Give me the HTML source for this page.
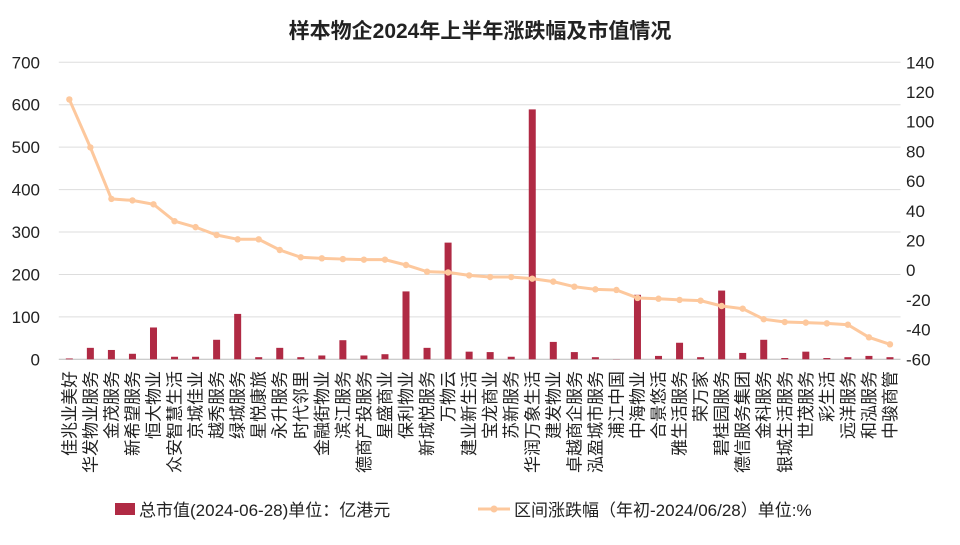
<!DOCTYPE html>
<html><head><meta charset="utf-8"><style>
body{margin:0;background:#fff}
svg text{font-family:"Liberation Sans","Noto Sans CJK SC",sans-serif;fill:#222}
</style></head><body>
<svg id="c" width="960" height="540" xmlns="http://www.w3.org/2000/svg">
<text x="480" y="38" text-anchor="middle" font-size="21" font-weight="bold">样本物企2024年上半年涨跌幅及市值情况</text>
<g id="grid"></g><g id="bars"></g><g id="line"></g><g id="axes"></g><g id="xl"></g>
<g>
<rect x="115" y="503" width="20" height="12" fill="#b02a44"/>
<text x="139" y="516" font-size="17">总市值(2024-06-28)单位：亿港元</text>
<line x1="478" y1="509" x2="510" y2="509" stroke="#fdc89d" stroke-width="3"/>
<circle cx="494" cy="509" r="3.5" fill="#fdc89d"/>
<text x="514" y="516" font-size="17">区间涨跌幅（年初-2024/06/28）单位:%</text>
</g>
</svg>
<script>
const categories=["佳兆业美好","华发物业服务","金茂服务","新希望服务","恒大物业","众安智慧生活","京城佳业","越秀服务","绿城服务","星悦康旅","永升服务","时代邻里","金融街物业","滨江服务","德商产投服务","星盛商业","保利物业","新城悦服务","万物云","建业新生活","宝龙商业","苏新服务","华润万象生活","建发物业","卓越商企服务","泓盈城市服务","浦江中国","中海物业","合景悠活","雅生活服务","荣万家","碧桂园服务","德信服务集团","金科服务","银城生活服务","世茂服务","彩生活","远洋服务","和泓服务","中骏商管"];
const marketCap=[2,27,22,13,75,6,6,46,107,5,27,5,9,45,9,12,160,27,275,18,17,6,589,41,17,5,0.5,152,8,39,5,162,15,46,3,18,3,5,8,5];
const changePct=[115,82.7,48,47,44.4,33,29,23.7,20.8,20.8,13.6,8.7,8,7.5,7.1,7.1,3.5,-1,-1.5,-3.5,-4.6,-4.6,-5.7,-7.7,-11.1,-12.9,-13.3,-18.7,-19.2,-20,-20.5,-24.1,-25.9,-33,-34.9,-35.3,-35.8,-36.7,-45.2,-49.9];
const leftTicks=[0,100,200,300,400,500,600,700];
const rightTicks=[-60,-40,-20,0,20,40,60,80,100,120,140];
const NS="http://www.w3.org/2000/svg";
const X0=58.8,X1=900.5,YT=62.3,YB=359.3;
const step=(X1-X0)/categories.length;
const xc=i=>X0+step*(i+0.5);
const yL=v=>YB-(v/700)*(YB-YT);
const yR=v=>YB-((v+60)/200)*(YB-YT);
function mk(t,a,p){const e=document.createElementNS(NS,t);for(const k in a)e.setAttribute(k,a[k]);p.appendChild(e);return e;}
const grid=document.getElementById('grid'),axes=document.getElementById('axes');
leftTicks.forEach(v=>{
 const l=mk('line',{x1:X0,x2:X1,y1:yL(v),y2:yL(v),stroke:v===0?'#bbb':'#ddd','stroke-width':1},grid);
 
 
 const t=mk('text',{x:40,y:yL(v)+6,'text-anchor':'end','font-size':17},axes);t.textContent=v;
 
 
});
rightTicks.forEach(v=>{
 const t=mk('text',{x:906,y:yR(v)+6,'font-size':17},axes);t.textContent=v;
 
 
});
const bars=document.getElementById('bars');
marketCap.forEach((v,i)=>{
 const r=mk('rect',{x:xc(i)-3.5,y:yL(v),width:7,height:YB-yL(v),fill:'#b02a44'},bars);
 
 
});
const lg=document.getElementById('line');
const pl=mk('polyline',{points:changePct.map((v,i)=>xc(i)+','+yR(v)).join(' '),fill:'none',stroke:'#fdc89d','stroke-width':3},lg);


changePct.forEach((v,i)=>{
 const c=mk('circle',{cx:xc(i),cy:yR(v),r:3.2,fill:'#fdc89d'},lg);
 
 
});
const xl=document.getElementById('xl');
categories.forEach((c,i)=>{
 const x=xc(i)+6,y=371;
 const t=mk('text',{x:x,y:y,transform:`rotate(-90 ${x} ${y})`,'text-anchor':'end','font-size':17},xl);t.textContent=c;
 
 
});
</script>
</body></html>
